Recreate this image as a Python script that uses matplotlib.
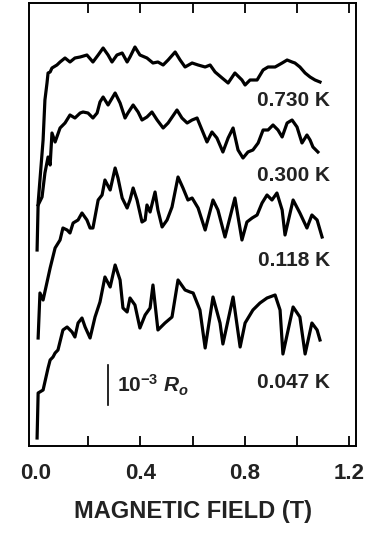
import matplotlib
import matplotlib.pyplot as plt
matplotlib.use('Agg')

plt.rcParams['font.family'] = ['Liberation Sans', 'DejaVu Sans']
plt.rcParams['font.weight'] = 'bold'
plt.rcParams['mathtext.fontset'] = 'custom'
plt.rcParams['mathtext.rm'] = 'Liberation Sans:bold'
plt.rcParams['mathtext.it'] = 'Liberation Sans:italic:bold'
plt.rcParams['mathtext.bf'] = 'Liberation Sans:bold'

# magnetic field (T) and resistance offset (arbitrary units, curves shifted)
b_730 = [0.004, 0.008, 0.027, 0.034, 0.042, 0.046, 0.054, 0.061, 0.080, 0.092,
         0.111, 0.130, 0.149, 0.169, 0.195, 0.218, 0.238, 0.257, 0.276, 0.291,
         0.310, 0.330, 0.349, 0.360, 0.379, 0.398, 0.425, 0.448, 0.467, 0.487,
         0.506, 0.533, 0.552, 0.571, 0.598, 0.621, 0.648, 0.667, 0.686, 0.713,
         0.736, 0.762, 0.789, 0.801, 0.820, 0.847, 0.870, 0.889, 0.916, 0.943,
         0.962, 0.981, 0.992, 1.011, 1.031, 1.050, 1.069, 1.088]
r_730 = [196, 243, 306, 346, 363, 373, 374, 378, 381, 384,
         388, 384, 388, 389, 391, 384, 391, 398, 391, 384,
         391, 393, 384, 389, 399, 391, 388, 383, 384, 381,
         386, 394, 386, 379, 383, 381, 379, 381, 374, 368,
         363, 373, 366, 361, 366, 366, 376, 379, 379, 383,
         386, 384, 383, 379, 373, 369, 366, 364]

b_300 = [0.008, 0.023, 0.034, 0.046, 0.054, 0.061, 0.073, 0.092, 0.111, 0.130,
         0.149, 0.169, 0.180, 0.199, 0.218, 0.234, 0.245, 0.257, 0.276, 0.303,
         0.322, 0.341, 0.352, 0.372, 0.391, 0.406, 0.425, 0.444, 0.464, 0.487,
         0.506, 0.540, 0.559, 0.579, 0.598, 0.617, 0.636, 0.655, 0.674, 0.693,
         0.716, 0.736, 0.755, 0.774, 0.793, 0.812, 0.831, 0.851, 0.870, 0.889,
         0.908, 0.927, 0.943, 0.962, 0.981, 1.000, 1.019, 1.038, 1.050, 1.061,
         1.080]
r_300 = [241, 249, 273, 289, 281, 313, 304, 318, 323, 331,
         328, 333, 334, 333, 328, 333, 344, 349, 341, 353,
         343, 328, 333, 341, 334, 326, 329, 334, 326, 318,
         323, 336, 328, 323, 326, 328, 316, 304, 314, 308,
         294, 308, 318, 296, 288, 294, 296, 303, 316, 316,
         321, 316, 309, 323, 326, 319, 303, 311, 306, 299,
         294]

b_118 = [0.008, 0.015, 0.027, 0.054, 0.073, 0.092, 0.103, 0.119, 0.130, 0.142,
         0.161, 0.176, 0.195, 0.207, 0.218, 0.238, 0.253, 0.264, 0.284, 0.303,
         0.314, 0.330, 0.349, 0.360, 0.372, 0.387, 0.406, 0.418, 0.425, 0.437,
         0.456, 0.467, 0.483, 0.502, 0.521, 0.544, 0.563, 0.582, 0.598, 0.621,
         0.648, 0.678, 0.697, 0.724, 0.762, 0.789, 0.808, 0.828, 0.847, 0.866,
         0.885, 0.904, 0.923, 0.943, 0.954, 0.985, 1.011, 1.038, 1.057, 1.077,
         1.096]
r_118 = [108, 153, 146, 178, 198, 206, 218, 216, 213, 223,
         226, 233, 226, 218, 218, 246, 251, 266, 256, 278,
         268, 248, 238, 246, 258, 246, 224, 226, 241, 234,
         254, 236, 219, 226, 239, 269, 258, 246, 248, 238,
         216, 246, 236, 209, 248, 206, 224, 228, 231, 243,
         251, 246, 253, 236, 211, 246, 233, 218, 231, 226,
         209]

b_047 = [0.004, 0.008, 0.027, 0.046, 0.054, 0.065, 0.073, 0.084, 0.103, 0.119,
         0.138, 0.149, 0.161, 0.176, 0.188, 0.207, 0.226, 0.245, 0.264, 0.284,
         0.303, 0.322, 0.333, 0.349, 0.360, 0.379, 0.398, 0.418, 0.437, 0.448,
         0.467, 0.494, 0.521, 0.544, 0.571, 0.590, 0.602, 0.628, 0.648, 0.678,
         0.705, 0.716, 0.755, 0.782, 0.801, 0.831, 0.858, 0.885, 0.916, 0.935,
         0.946, 0.985, 1.011, 1.031, 1.057, 1.077, 1.088]
r_047 = [8, 53, 56, 78, 86, 89, 93, 96, 116, 119,
         114, 109, 123, 128, 119, 108, 129, 144, 169, 159,
         181, 166, 138, 134, 148, 141, 118, 131, 138, 161,
         116, 123, 129, 166, 156, 154, 153, 136, 98, 149,
         123, 102, 149, 99, 123, 136, 143, 148, 151, 136,
         92, 139, 129, 92, 123, 116, 106]

temps = ['0.730 K', '0.300 K', '0.118 K', '0.047 K']
label_y = [346, 271, 185, 63]

tick_vals = [0.2, 0.4, 0.6, 0.8, 1.0, 1.2]
label_vals = [0.0, 0.4, 0.8, 1.2]
label_txt = ['0.0', '0.4', '0.8', '1.2']

ink = '#222222'

fig = plt.figure(figsize=(3.65, 5.33), dpi=100)
ax = fig.add_axes([29 / 365, 87 / 533, 327 / 365, 443 / 533])

for b, r in [(b_730, r_730), (b_300, r_300), (b_118, r_118), (b_047, r_047)]:
    ax.plot(b, r, color='black', lw=2.3)

for t, y in zip(temps, label_y):
    ax.text(1.126, y, t, ha='right', va='center', fontsize=15,
            fontweight='bold', color=ink)

# scale bar 10^-3 R_o
ax.plot([0.276, 0.276], [41, 81], color='black', lw=1.2)
ax.text(0.310, 53, r'$10^{-3}\ R_o$', ha='left', va='baseline',
        fontsize=15, color=ink)

ax.set_xlim(-0.027, 1.226)
ax.set_ylim(0, 443)
ax.set_yticks([])

ax.xaxis.remove_overlapping_locs = False
ax.set_xticks(tick_vals)
ax.set_xticklabels([])
ax.set_xticks(label_vals, minor=True)
ax.set_xticklabels(label_txt, minor=True)
ax.tick_params(axis='x', which='major', direction='in', length=7, width=1.3,
               top=True, bottom=True)
ax.tick_params(axis='x', which='minor', length=0, pad=12, labelsize=16,
               labelcolor=ink)
for s in ax.spines.values():
    s.set_linewidth(1.4)

ax.set_xlabel('MAGNETIC FIELD (T)', fontsize=17, fontweight='bold',
              color=ink, labelpad=12)

fig.savefig('out.png', dpi=100)
